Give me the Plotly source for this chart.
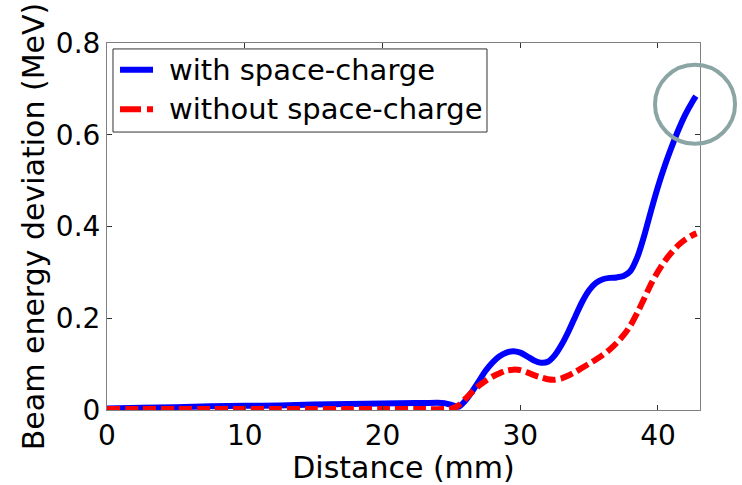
import plotly.graph_objects as go

# Blue: with space-charge
x_with = [0, 2.5, 5, 7.5, 10, 12.5, 15, 17.5, 20, 22.5, 24.0, 24.5, 25.0, 25.5, 26.0, 26.5, 27.0,
          27.5, 28.0, 28.5, 29.0, 29.5, 30.0, 30.5, 31.0, 31.5, 32.0, 32.5, 33.0, 33.5, 34.0,
          34.5, 35.0, 35.5, 36.0, 36.5, 37.0, 37.5, 38.0, 38.5, 39.0, 39.5, 40.0, 40.5, 41.0,
          41.5, 42.0, 42.5, 42.75]
y_with = [0.003, 0.005, 0.006, 0.008, 0.009, 0.010, 0.012, 0.013, 0.014, 0.015, 0.016, 0.015, 0.011,
          0.007, 0.020, 0.040, 0.063, 0.086, 0.104, 0.117, 0.125, 0.128, 0.125, 0.117, 0.108,
          0.103, 0.105, 0.119, 0.142, 0.171, 0.204, 0.236, 0.261, 0.277, 0.285, 0.288, 0.289,
          0.292, 0.303, 0.333, 0.380, 0.435, 0.487, 0.533, 0.574, 0.612, 0.645, 0.672, 0.684]

# Red: without space-charge
x_without = [0, 2.5, 5, 7.5, 10, 12.5, 15, 17.5, 20, 22.5, 24.5, 25.0, 25.5, 26.0, 26.5, 27.0,
             27.5, 28.0, 28.5, 29.0, 29.5, 30.0, 30.5, 31.0, 31.5, 32.0, 32.5, 33.0, 33.5, 34.0,
             34.5, 35.0, 35.5, 36.0, 36.5, 37.0, 37.5, 38.0, 38.5, 39.0, 39.5, 40.0, 40.5, 41.0,
             41.5, 42.0, 42.5, 42.8]
y_without = [0.002, 0.002, 0.002, 0.002, 0.002, 0.002, 0.002, 0.002, 0.002, 0.002, 0.002, 0.003,
             0.010, 0.024, 0.039, 0.053, 0.064, 0.073, 0.080, 0.086, 0.088, 0.087, 0.082, 0.076,
             0.071, 0.067, 0.066, 0.069, 0.075, 0.083, 0.092, 0.101, 0.110, 0.120, 0.132, 0.146,
             0.163, 0.184, 0.212, 0.243, 0.275, 0.302, 0.325, 0.344, 0.360, 0.372, 0.381, 0.385]

series_names = ["with space-charge", "without space-charge"]
series_colors = ["#0000ff", "#ff0000"]
series_dash = ["solid", "13px,5px"]
legend_dash = ["solid", "21px,6px"]
x_ticks = [0, 10, 20, 30, 40]
y_ticks = [0, 0.2, 0.4, 0.6, 0.8]
y_tick_labels = ["0", "0.2", "0.4", "0.6", "0.8"]

FONT = "DejaVu Sans, Liberation Sans, sans-serif"
AXIS_GRAY = "#808080"

fig = go.Figure()
for xs, ys, name, col, dash in zip([x_with, x_without], [y_with, y_without],
                                   series_names, series_colors, series_dash):
    fig.add_trace(go.Scatter(
        x=xs, y=ys, mode="lines", name=name, showlegend=False,
        line=dict(color=col, width=6, shape="spline", smoothing=0.8, dash=dash),
    ))

# Legend box (drawn in paper coordinates, like the original boxed legend)
shapes = [dict(type="rect", xref="paper", yref="paper", x0=0.0101, x1=0.6408, y0=0.7574, y1=0.9838,
               line=dict(color="#333333", width=1), fillcolor="white", layer="above")]
annotations = []
row_y = [0.9272, 0.8194]
for name, col, dash, yy in zip(series_names, series_colors, legend_dash, row_y):
    shapes.append(dict(type="line", xref="paper", yref="paper", x0=0.0219, x1=0.0776, y0=yy, y1=yy,
                       line=dict(color=col, width=6, dash=dash), layer="above"))
    annotations.append(dict(text=name, xref="paper", yref="paper", x=0.1012, y=yy,
                            xanchor="left", yanchor="middle", showarrow=False,
                            font=dict(family=FONT, size=29, color="black")))

# Highlight circle around the end of the space-charge curve
shapes.append(dict(type="circle", xref="paper", yref="paper",
                   x0=0.9916 - 0.0675, x1=0.9916 + 0.0675, y0=0.833 - 0.1078, y1=0.833 + 0.1078,
                   line=dict(color="#8ba5a5", width=4), layer="above"))

fig.update_layout(
    width=742, height=485,
    margin=dict(l=107, r=42, t=43, b=71),
    paper_bgcolor="white", plot_bgcolor="white",
    font=dict(family=FONT, size=28, color="black"),
    showlegend=False,
    xaxis=dict(
        range=[0, 43.05], tickvals=x_ticks, ticks="inside", ticklen=5, tickcolor="#333333",
        showline=True, linecolor=AXIS_GRAY, linewidth=1, mirror="ticks",
        showgrid=False, zeroline=False,
        tickfont=dict(family=FONT, size=28, color="black"),
        title=dict(text="Distance (mm)", font=dict(family=FONT, size=30, color="black"), standoff=0),
    ),
    yaxis=dict(
        range=[0, 0.8], tickvals=y_ticks, ticktext=y_tick_labels, ticks="inside", ticklen=5,
        tickcolor="#333333",
        showline=True, linecolor=AXIS_GRAY, linewidth=1, mirror="ticks",
        showgrid=False, zeroline=False,
        tickfont=dict(family=FONT, size=28, color="black"),
        title=dict(text="Beam energy deviation (MeV)", font=dict(family=FONT, size=30, color="black"),
                   standoff=2),
    ),
    shapes=shapes,
    annotations=annotations,
)

fig.write_html("out.html")
